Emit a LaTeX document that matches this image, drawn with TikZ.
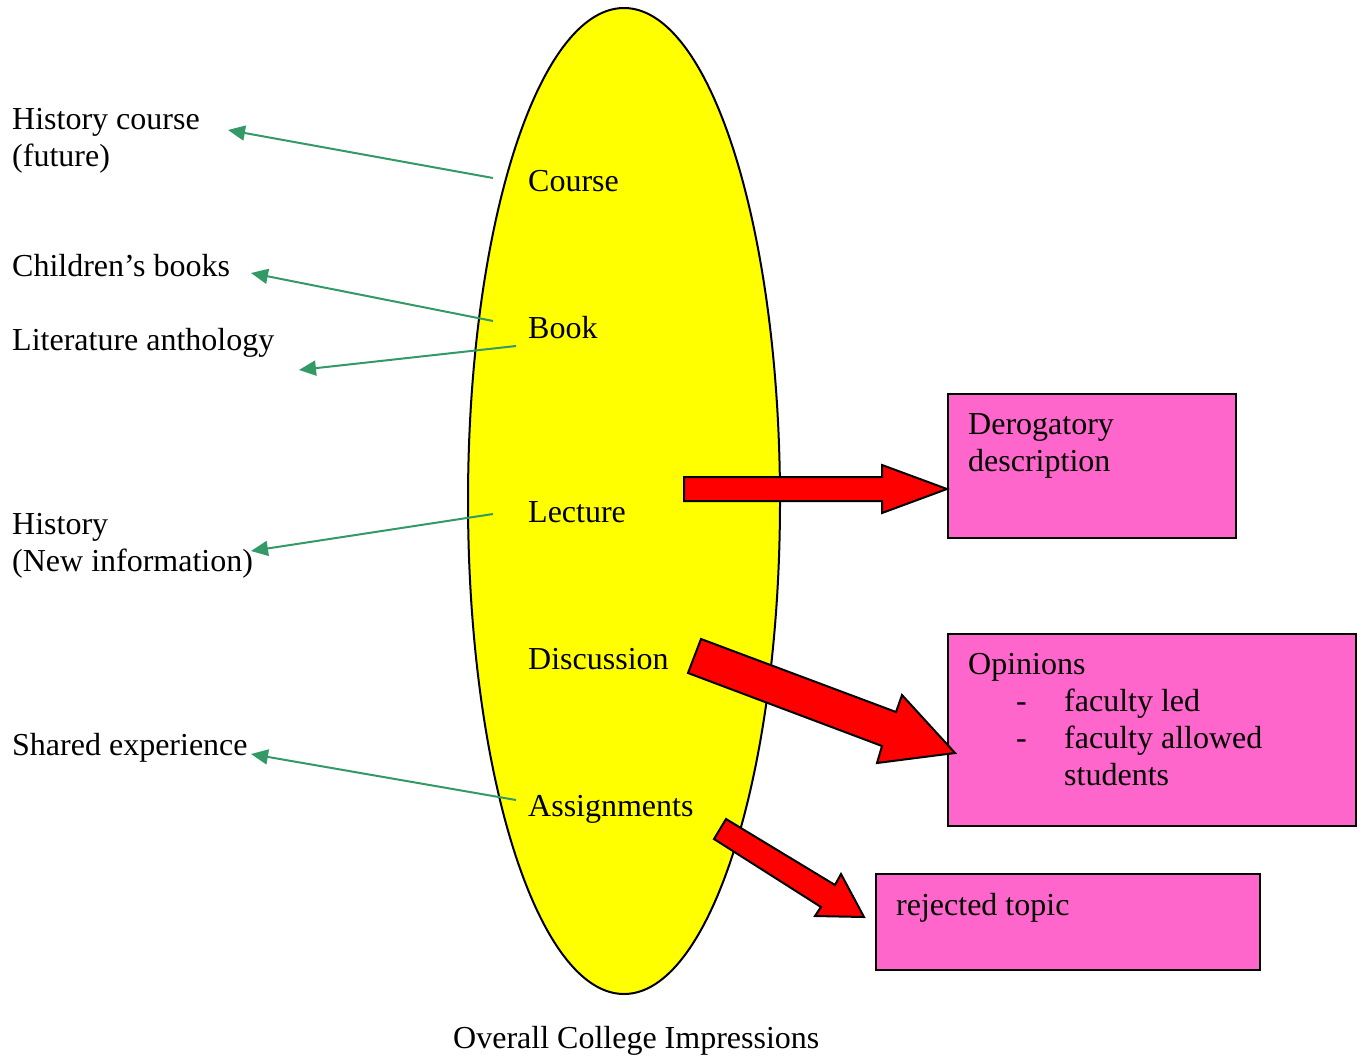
\documentclass[tikz,border=0pt]{standalone}
\usepackage{fontspec}
\setmainfont{Liberation Serif}
\usetikzlibrary{arrows.meta,shapes.geometric}
\definecolor{leafgreen}{RGB}{51,153,102}
\definecolor{boxpink}{RGB}{255,102,204}
\definecolor{sunyellow}{RGB}{255,255,0}
\tikzset{
  txt/.style={anchor=base west, inner sep=0pt, font=\fontsize{32}{37}\selectfont, align=left},
  pointer/.style={draw=leafgreen, line width=2pt, -{Triangle[length=17pt,width=15pt]}},
  notebox/.style={draw=black, line width=2.5pt, fill=boxpink},
  blockarrow/.style={draw=black, line width=2pt, fill=red, line join=miter},
}
\begin{document}
\begin{tikzpicture}[x=1pt,y=-1pt]
\useasboundingbox (0,0) rectangle (1362,1055);

% central ellipse
\node[draw=black, line width=2pt, fill=sunyellow, ellipse, minimum width=312pt, minimum height=986pt, inner sep=0pt] (core) at (624,501) {};

% labels inside the ellipse
\node[txt] (course) at (528,191) {Course};
\node[txt] (book) at (528,338) {Book};
\node[txt] (lecture) at (528,522) {Lecture};
\node[txt] (discussion) at (528,669) {Discussion};
\node[txt] (assign) at (528,816) {Assignments};

% outer labels on the left (base anchor = last line's baseline)
\node[txt] (histcourse) at (12,166) {History course\\(future)};
\node[txt] (children) at (12,276) {Children’s books};
\node[txt] (litanth) at (12,350) {Literature anthology};
\node[txt] (history) at (12,571) {History\\(New information)};
\node[txt] (shared) at (12,755) {Shared experience};

% caption
\node[txt] (caption) at (453,1048) {Overall College Impressions};

% boxes on the right
\draw[notebox] (948,394) rectangle (1236,538);
\node[txt] (derog) at (968,471) {Derogatory\\description};
\draw[notebox] (948,634) rectangle (1356,826);
\node[txt] (opin) at (968,674) {Opinions};
\node[txt] (dash1) at (1016,711) {-};
\node[txt] (dash2) at (1016,748) {-};
\node[txt] (opitems) at (1064,785) {faculty led\\faculty allowed\\students};
\draw[notebox] (876,874) rectangle (1260,970);
\node[txt] (reject) at (896,915) {rejected topic};

% green pointers
\coordinate (t1) at (493,178); \coordinate (h1) at (228,130);
\coordinate (t2) at (493,321); \coordinate (h2) at (251,273);
\coordinate (t3) at (516,346); \coordinate (h3) at (299,370);
\coordinate (t4) at (493,514); \coordinate (h4) at (251,551);
\coordinate (t5) at (516,800); \coordinate (h5) at (251,754);
\draw[pointer] (t1) -- (h1);
\draw[pointer] (t2) -- (h2);
\draw[pointer] (t3) -- (h3);
\draw[pointer] (t4) -- (h4);
\draw[pointer] (t5) -- (h5);

% red block arrows
\draw[blockarrow] (684,477) -- (882,477) -- (882,465) -- (947,489) -- (882,513) -- (882,501) -- (684,501) -- cycle;
\draw[blockarrow] (701,639) -- (896,712) -- (902,695) -- (955,753) -- (877,763) -- (882,746) -- (688,673) -- cycle;
\draw[blockarrow] (726,819) -- (835,885) -- (841,874) -- (864,917) -- (815,916) -- (821,907) -- (714,839) -- cycle;
\end{tikzpicture}
\end{document}
